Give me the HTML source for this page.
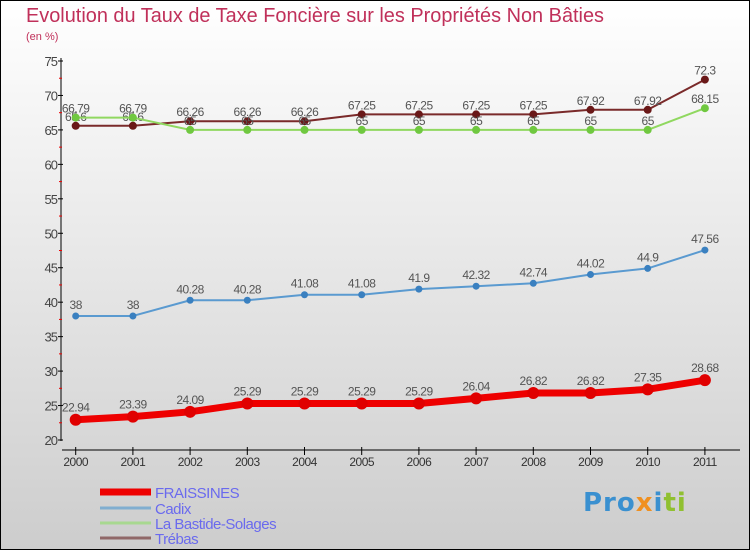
<!DOCTYPE html>
<html><head><meta charset="utf-8"><style>
body{margin:0;width:750px;height:550px;overflow:hidden;font-family:"Liberation Sans",sans-serif}
svg{display:block}
</style></head><body>
<svg id="c" width="750" height="550" xmlns="http://www.w3.org/2000/svg">
<defs><linearGradient id="bg" x1="0" y1="0" x2="0" y2="1"><stop offset="0" stop-color="#ffffff"/><stop offset="1" stop-color="#cdcdcd"/></linearGradient></defs>
<rect x="0.5" y="0.5" width="749" height="549" fill="url(#bg)" stroke="#000"/>
<text x="26" y="22" font-size="20" fill="#c0305a" textLength="578" lengthAdjust="spacingAndGlyphs">Evolution du Taux de Taxe Foncière sur les Propriétés Non Bâties</text>
<text x="26" y="40" font-size="11" fill="#c0305a">(en %)</text>
<g id="axes"></g><g id="series"></g><g id="legend"></g>
</svg>
<script>
const years=["2000","2001","2002","2003","2004","2005","2006","2007","2008","2009","2010","2011"];
const yTicks=[20,25,30,35,40,45,50,55,60,65,70,75];
const fraissines=[22.94,23.39,24.09,25.29,25.29,25.29,25.29,26.04,26.82,26.82,27.35,28.68];
const fraissinesLbl=["22.94","23.39","24.09","25.29","25.29","25.29","25.29","26.04","26.82","26.82","27.35","28.68"];
const cadix=[38,38,40.28,40.28,41.08,41.08,41.9,42.32,42.74,44.02,44.9,47.56];
const cadixLbl=["38","38","40.28","40.28","41.08","41.08","41.9","42.32","42.74","44.02","44.9","47.56"];
const bastide=[66.79,66.79,65,65,65,65,65,65,65,65,65,68.15];
const bastideLbl=["66.79","66.79","65","65","65","65","65","65","65","65","65","68.15"];
const trebas=[65.6,65.6,66.26,66.26,66.26,67.25,67.25,67.25,67.25,67.92,67.92,72.3];
const trebasLbl=["65.6","65.6","66.26","66.26","66.26","67.25","67.25","67.25","67.25","67.92","67.92","72.3"];
const NS="http://www.w3.org/2000/svg";
const xs=i=>75.7+i*57.2;
const ys=v=>440-(v-20)*(379/55);
function mk(p,tag,a){const e=document.createElementNS(NS,tag);for(const k in a)e.setAttribute(k,a[k]);p.appendChild(e);return e;}
const ax=document.getElementById('axes');
let e=mk(ax,'line',{x1:61,y1:58,x2:61,y2:441,stroke:'#000'});


e=mk(ax,'line',{x1:62,y1:450,x2:740,y2:450,stroke:'#000'});


yTicks.forEach((t,i)=>{const y=ys(t);mk(ax,'line',{x1:58,y1:y,x2:63,y2:y,stroke:'#000'});
 if(i<yTicks.length-1)mk(ax,'line',{x1:59,y1:ys(t+2.5),x2:62,y2:ys(t+2.5),stroke:'#e00'});
 const l=mk(ax,'text',{x:57,y:y+5,'font-size':13,'text-anchor':'end',fill:'#444','letter-spacing':'-1'});l.textContent=t;
 
 });
years.forEach((yr,i)=>{const x=xs(i);mk(ax,'line',{x1:x,y1:447,x2:x,y2:455,stroke:'#000'});
 const l=mk(ax,'text',{x:x,y:466,'font-size':12,'text-anchor':'middle',fill:'#333','letter-spacing':'-0.5'});l.textContent=yr;
 
 });
const sg=document.getElementById('series');
function series(name,vals,lbls,color,dot,w,r,dy){
 const g=mk(sg,'g',{});
 
 
 mk(g,'polyline',{points:vals.map((v,i)=>xs(i)+','+ys(v)).join(' '),fill:'none',stroke:color,'stroke-width':w,'stroke-linejoin':'round'});
 vals.forEach((v,i)=>{const c=mk(g,'circle',{cx:xs(i),cy:ys(v),r:r,fill:dot});
  
  
  const t=mk(g,'text',{x:xs(i),y:ys(v)+dy,'font-size':12,'text-anchor':'middle',fill:'#555','letter-spacing':'-0.5'});t.textContent=lbls[i];
  
  });
}
series('trebas',trebas,trebasLbl,'#7a2a2a','#6a1818',2,4,-5);
series('la-bastide-solages',bastide,bastideLbl,'#90d860','#70c840',2,4,-5);
series('cadix',cadix,cadixLbl,'#5a9ad0','#3a80c0',2,3.5,-7);
series('fraissines',fraissines,fraissinesLbl,'#ee0000','#e00000',7,6,-8);
const lg=document.getElementById('legend');
[['FRAISSINES','#ee0000',7,492],['Cadix','#80aed0',3,508],['La Bastide-Solages','#a8d890',3,523],['Trébas','#906868',3,538]].forEach(d=>{
 const g=mk(lg,'g',{});
 
 
 mk(g,'line',{x1:100,y1:d[3],x2:151,y2:d[3],stroke:d[1],'stroke-width':d[2]});
 const t=mk(g,'text',{x:155,y:d[3]+6,'font-size':15,fill:'#6a6aee','letter-spacing':'-0.5'});t.textContent=d[0];});
</script>
<div style="position:absolute;left:583px;top:488px;font:bold 26px 'DejaVu Sans',sans-serif;letter-spacing:1px"><span style="color:#3a90d0">Pro</span><span style="color:#f09020">x</span><span style="color:#3a90d0">i</span><span style="color:#90c030">ti</span></div>
</body></html>
